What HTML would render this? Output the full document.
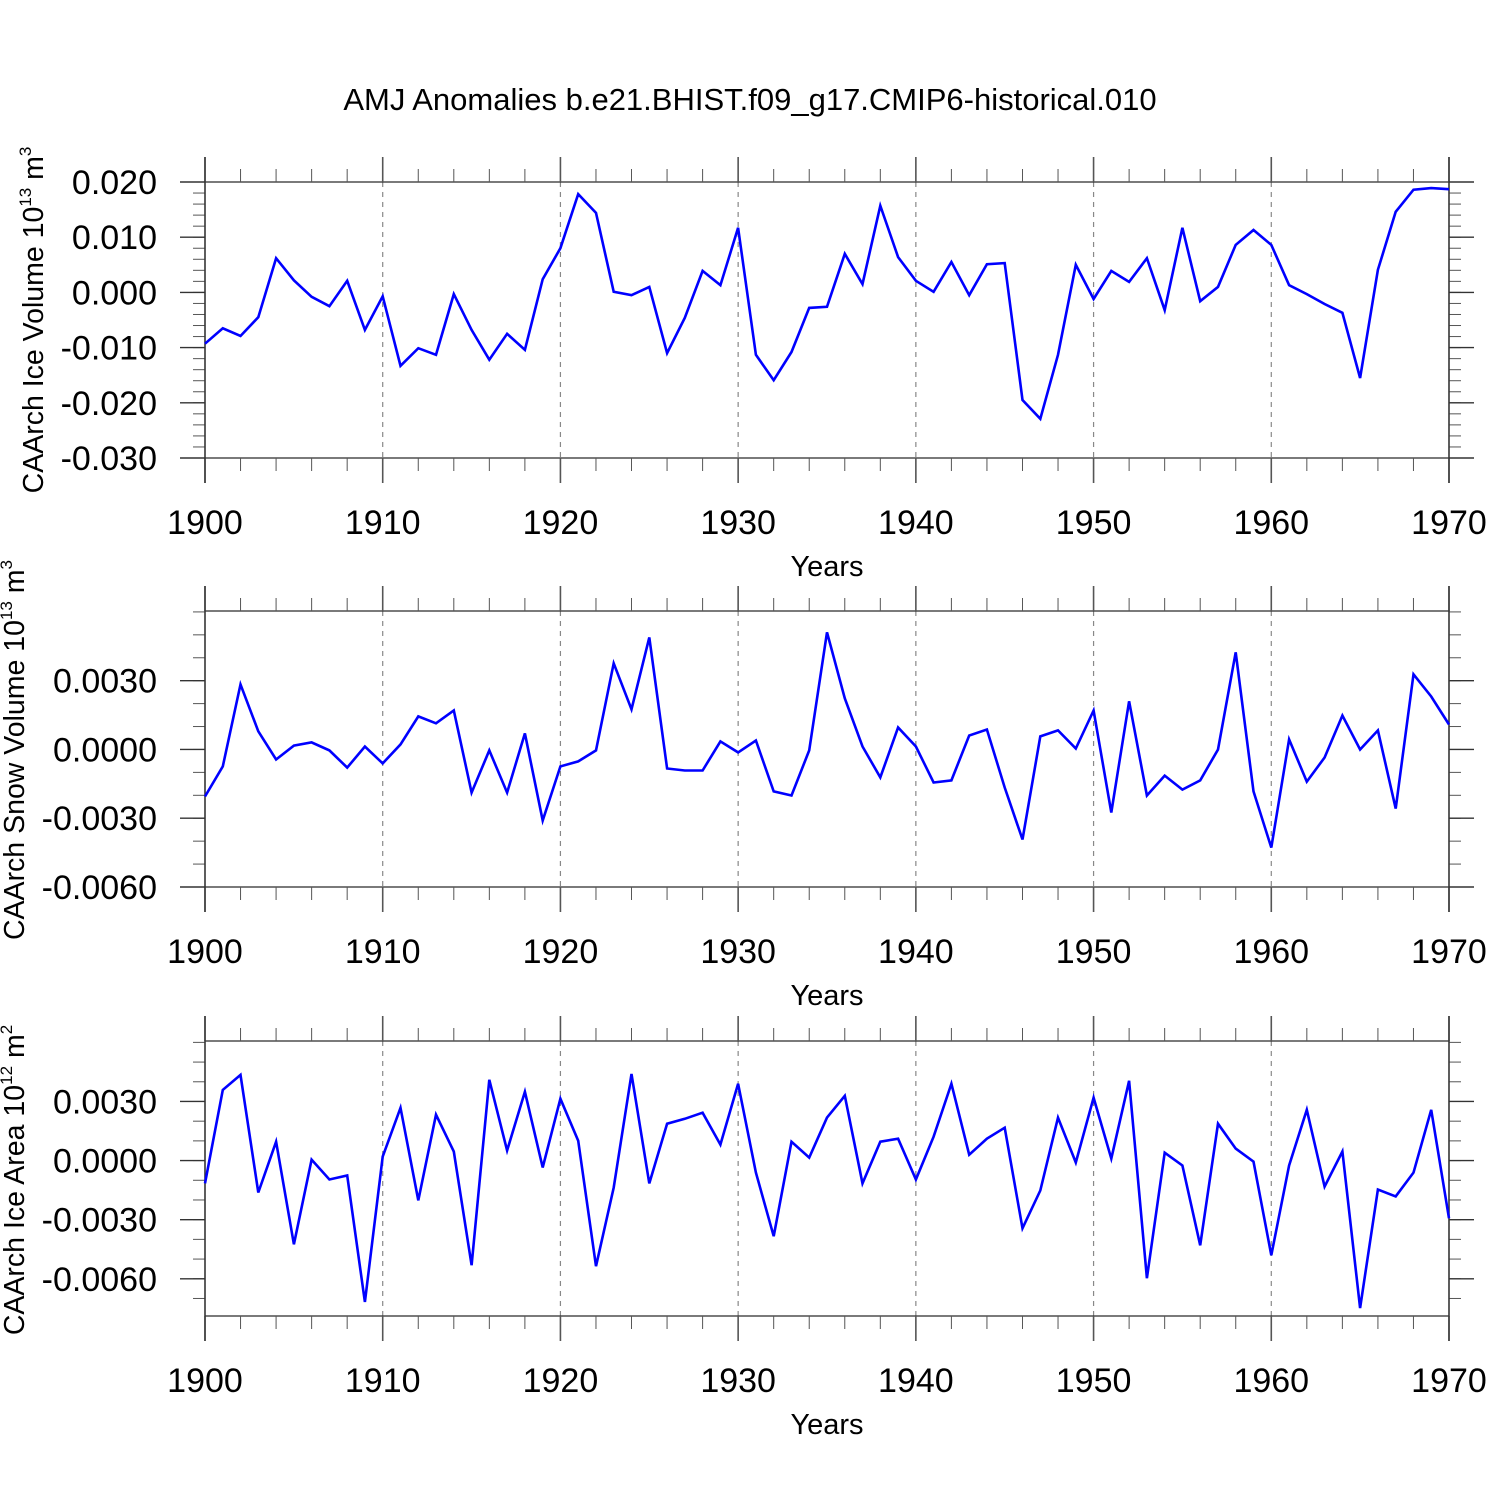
<!DOCTYPE html>
<html><head><meta charset="utf-8"><style>
html,body{margin:0;padding:0;background:#fff;}
svg text{font-family:"Liberation Sans",sans-serif;fill:#000;}
</style></head><body>
<svg id="chart" width="1500" height="1500" xmlns="http://www.w3.org/2000/svg">
<text x="750" y="110" font-size="31" text-anchor="middle">AMJ Anomalies b.e21.BHIST.f09_g17.CMIP6-historical.010</text>
</svg>
<script>
const years = [];
for (let y = 1900; y <= 1970; y++) years.push(y);
const xTicks = [1900,1910,1920,1930,1940,1950,1960,1970];
const iceVolume = [-0.0093,-0.0065,-0.0079,-0.0045,0.0062,0.0022,-0.0008,-0.0025,0.0021,-0.0068,-0.0007,-0.0133,-0.0101,-0.0113,-0.0003,-0.0068,-0.0122,-0.0075,-0.0104,0.0024,0.0080,0.0178,0.0144,0.0001,-0.0005,0.0010,-0.0110,-0.0046,0.0039,0.0013,0.0117,-0.0113,-0.0159,-0.0108,-0.0028,-0.0026,0.0070,0.0015,0.0157,0.0064,0.0021,0.0001,0.0055,-0.0005,0.0051,0.0053,-0.0195,-0.0229,-0.0113,0.0050,-0.0012,0.0039,0.0019,0.0062,-0.0032,0.0117,-0.0016,0.0010,0.0086,0.0113,0.0086,0.0013,-0.0003,-0.0021,-0.0037,-0.0155,0.0041,0.0146,0.0186,0.0189,0.0187];
const snowVolume = [-0.00205,-0.00074,0.00284,0.00079,-0.00044,0.00017,0.00031,-0.00004,-0.00079,0.00013,-0.00061,0.00022,0.00144,0.00114,0.0017,-0.00188,-0.00004,-0.00188,0.0007,-0.0031,-0.00074,-0.00052,-0.00004,0.00376,0.00175,0.00489,-0.00083,-0.00092,-0.00092,0.00035,-0.00013,0.00039,-0.00183,-0.00201,-0.00004,0.00511,0.00223,0.00013,-0.00122,0.00096,0.00013,-0.00144,-0.00135,0.00061,0.00087,-0.00166,-0.00393,0.00057,0.00083,0.00004,0.0017,-0.00275,0.0021,-0.00201,-0.00114,-0.00175,-0.00135,0,0.00424,-0.00183,-0.00428,0.00044,-0.0014,-0.00035,0.00148,0,0.00083,-0.00258,0.00328,0.00231,0.00109];
const iceArea = [-0.00116,0.00359,0.00435,-0.00162,0.00096,-0.00425,0.00005,-0.00096,-0.00076,-0.00718,0.0002,0.00268,-0.00202,0.00233,0.00046,-0.00531,0.0041,0.00051,0.00349,-0.00035,0.00314,0.00101,-0.00536,-0.00137,0.0044,-0.00116,0.00187,0.00212,0.00243,0.00081,0.0039,-0.00061,-0.00384,0.00096,0.00015,0.00218,0.00329,-0.00116,0.00096,0.00111,-0.00096,0.00121,0.0039,0.0003,0.00111,0.00167,-0.00344,-0.00152,0.00218,-0.0001,0.00319,0.0001,0.00405,-0.00597,0.0004,-0.00025,-0.0043,0.00187,0.00061,-0.00005,-0.00481,-0.00025,0.00258,-0.00132,0.00046,-0.00749,-0.00147,-0.00182,-0.00061,0.00258,-0.00293];
const iceVolTicks = [0.020,0.010,0.000,-0.010,-0.020,-0.030];
const iceVolLabels = ["0.020","0.010","0.000","-0.010","-0.020","-0.030"];
const snowTicks = [0.003,0,-0.003,-0.006];
const snowLabels = ["0.0030","0.0000","-0.0030","-0.0060"];
const areaTicks = [0.003,0,-0.003,-0.006];
const areaLabels = ["0.0030","0.0000","-0.0030","-0.0060"];

const svg = document.getElementById('chart');
const NS = 'http://www.w3.org/2000/svg';
function mk(tag, attrs, parent){const e=document.createElementNS(NS,tag);for(const k in attrs)e.setAttribute(k,attrs[k]);(parent||svg).appendChild(e);return e;}

const X0=205, X1=1449;
function xs(yr){return X0+(yr-1900)/70*(X1-X0);}

const panels = [
 {name:'ice-volume',top:182,bottom:458,vmax:0.020,vmin:-0.030,minor:0.002,data:iceVolume,ticks:iceVolTicks,labels:iceVolLabels,title:'CAArch Ice Volume 10',sup:'13',unit:' m',usup:'3',tcy:320,tcx:43},
 {name:'snow-volume',top:611,bottom:887,vmax:0.00604,vmin:-0.006,minor:0.001,data:snowVolume,ticks:snowTicks,labels:snowLabels,title:'CAArch Snow Volume 10',sup:'13',unit:' m',usup:'3',tcy:750,tcx:24},
 {name:'ice-area',top:1041,bottom:1316,vmax:0.00607,vmin:-0.00789,minor:0.001,data:iceArea,ticks:areaTicks,labels:areaLabels,title:'CAArch Ice Area 10',sup:'12',unit:' m',usup:'2',tcy:1180,tcx:24}
];

panels.forEach(p=>{
  const g=mk('g',{});
  
  
  const ys=v=>p.top+(p.vmax-v)/(p.vmax-p.vmin)*(p.bottom-p.top);
  xTicks.slice(1,-1).forEach(t=>{
    const l=mk('line',{x1:xs(t),x2:xs(t),y1:p.top,y2:p.bottom,stroke:'#888','stroke-width':1.2,'stroke-dasharray':'5,5'},g);
    
    
  });
  const fr=mk('rect',{x:X0,y:p.top,width:X1-X0,height:p.bottom-p.top,fill:'none',stroke:'#333','stroke-width':1.3},g);
  
  
  for(let yr=1900;yr<=1970;yr+=2){
    const maj=yr%10===0, len=maj?25:13, x=xs(yr);
    mk('line',{x1:x,x2:x,y1:p.top,y2:p.top-len,stroke:'#555','stroke-width':maj?1.6:1},g);
    mk('line',{x1:x,x2:x,y1:p.bottom,y2:p.bottom+len,stroke:'#555','stroke-width':maj?1.6:1},g);
  }
  xTicks.forEach(t=>{
    const tx=mk('text',{x:xs(t),y:p.bottom+76,'font-size':34,'text-anchor':'middle'},g);
    tx.textContent=t;
    
    
  });
  const xt=mk('text',{x:827,y:p.bottom+118,'font-size':29,'text-anchor':'middle'},g);
  xt.textContent='Years';
  
  
  const n0=Math.ceil(p.vmin/p.minor-1e-6), n1=Math.floor(p.vmax/p.minor+1e-6);
  for(let i=n0;i<=n1;i++){
    const v=i*p.minor, y=ys(v);
    mk('line',{x1:X0,x2:X0-12,y1:y,y2:y,stroke:'#555','stroke-width':1},g);
    mk('line',{x1:X1,x2:X1+12,y1:y,y2:y,stroke:'#555','stroke-width':1},g);
  }
  p.ticks.forEach((v,i)=>{
    const y=ys(v);
    mk('line',{x1:X0,x2:X0-25,y1:y,y2:y,stroke:'#333','stroke-width':1.4},g);
    mk('line',{x1:X1,x2:X1+25,y1:y,y2:y,stroke:'#333','stroke-width':1.4},g);
    const tx=mk('text',{x:157,y:y+12,'font-size':34,'text-anchor':'end'},g);
    tx.textContent=p.labels[i];
    
    
  });
  mk('line',{x1:X0,x2:X0,y1:p.top-25,y2:p.bottom+25,stroke:'#333','stroke-width':1.4},g);
  mk('line',{x1:X1,x2:X1,y1:p.top-25,y2:p.bottom+25,stroke:'#333','stroke-width':1.4},g);
  const yt=mk('text',{x:0,y:0,'font-size':28.5,'text-anchor':'middle',transform:`translate(${p.tcx},${p.tcy}) rotate(-90)`},g);
  
  
  const a=document.createElementNS(NS,'tspan');a.textContent=p.title;yt.appendChild(a);
  const b=document.createElementNS(NS,'tspan');b.setAttribute('font-size','17');b.setAttribute('dy','-12');b.textContent=p.sup;yt.appendChild(b);
  const c=document.createElementNS(NS,'tspan');c.setAttribute('dy','12');c.textContent=p.unit;yt.appendChild(c);
  const d=document.createElementNS(NS,'tspan');d.setAttribute('font-size','17');d.setAttribute('dy','-12');d.textContent=p.usup;yt.appendChild(d);
  const pts=p.data.map((v,i)=>xs(years[i]).toFixed(1)+','+ys(v).toFixed(1)).join(' ');
  const line=mk('polyline',{points:pts,fill:'none',stroke:'#0000ff','stroke-width':2.6,'stroke-linejoin':'miter'},g);
  
  
});
</script>
</body></html>
